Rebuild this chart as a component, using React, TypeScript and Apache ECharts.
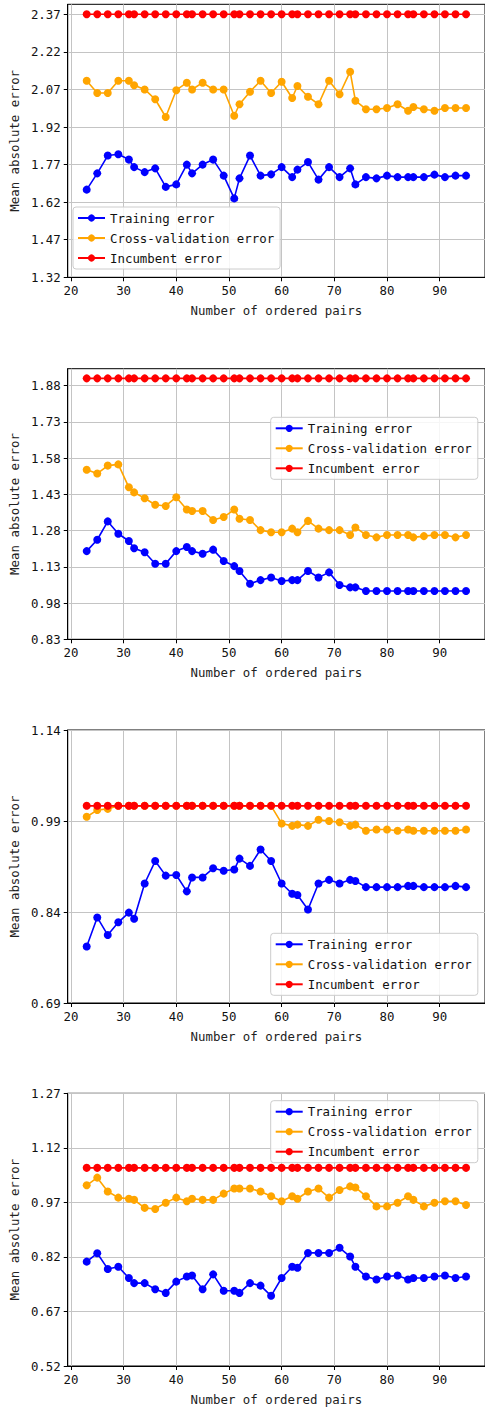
import React, { useEffect, useRef } from "react";
import * as echarts from "echarts";

const pairs = [23, 25, 27, 29, 31, 32, 34, 36, 38, 40, 42, 43, 45, 47, 49, 51, 52, 54, 56, 58, 60, 62, 63, 65, 67, 69, 71, 73, 74, 76, 78, 80, 82, 84, 85, 87, 89, 91, 93, 95];

const p1Training = [1.670, 1.735, 1.806, 1.811, 1.790, 1.760, 1.740, 1.755, 1.681, 1.691, 1.770, 1.735, 1.770, 1.790, 1.726, 1.635, 1.715, 1.806, 1.726, 1.731, 1.760, 1.720, 1.750, 1.780, 1.710, 1.760, 1.720, 1.755, 1.691, 1.720, 1.715, 1.726, 1.720, 1.720, 1.720, 1.720, 1.730, 1.720, 1.726, 1.726];
const p1CV = [2.105, 2.056, 2.056, 2.105, 2.105, 2.087, 2.070, 2.031, 1.960, 2.067, 2.097, 2.070, 2.097, 2.070, 2.070, 1.965, 2.011, 2.061, 2.105, 2.056, 2.101, 2.036, 2.084, 2.041, 2.011, 2.105, 2.051, 2.141, 2.025, 1.991, 1.991, 1.996, 2.011, 1.985, 2.000, 1.991, 1.985, 1.996, 1.996, 1.996];
const p1Incumbent = [2.37, 2.37, 2.37, 2.37, 2.37, 2.37, 2.37, 2.37, 2.37, 2.37, 2.37, 2.37, 2.37, 2.37, 2.37, 2.37, 2.37, 2.37, 2.37, 2.37, 2.37, 2.37, 2.37, 2.37, 2.37, 2.37, 2.37, 2.37, 2.37, 2.37, 2.37, 2.37, 2.37, 2.37, 2.37, 2.37, 2.37, 2.37, 2.37, 2.37];

const p2Training = [1.195, 1.242, 1.318, 1.267, 1.237, 1.207, 1.190, 1.143, 1.143, 1.195, 1.212, 1.195, 1.184, 1.201, 1.154, 1.133, 1.113, 1.060, 1.075, 1.086, 1.071, 1.075, 1.075, 1.113, 1.086, 1.107, 1.055, 1.045, 1.045, 1.030, 1.030, 1.030, 1.030, 1.030, 1.030, 1.030, 1.030, 1.030, 1.030, 1.030];
const p2CV = [1.532, 1.516, 1.549, 1.554, 1.459, 1.438, 1.414, 1.387, 1.382, 1.418, 1.367, 1.361, 1.361, 1.324, 1.336, 1.367, 1.329, 1.324, 1.282, 1.273, 1.273, 1.288, 1.273, 1.320, 1.288, 1.282, 1.282, 1.262, 1.293, 1.262, 1.252, 1.262, 1.262, 1.262, 1.252, 1.257, 1.262, 1.262, 1.252, 1.262];
const p2Incumbent = [1.91, 1.91, 1.91, 1.91, 1.91, 1.91, 1.91, 1.91, 1.91, 1.91, 1.91, 1.91, 1.91, 1.91, 1.91, 1.91, 1.91, 1.91, 1.91, 1.91, 1.91, 1.91, 1.91, 1.91, 1.91, 1.91, 1.91, 1.91, 1.91, 1.91, 1.91, 1.91, 1.91, 1.91, 1.91, 1.91, 1.91, 1.91, 1.91, 1.91];

const p3Training = [0.783, 0.831, 0.802, 0.823, 0.839, 0.829, 0.887, 0.924, 0.900, 0.901, 0.874, 0.897, 0.897, 0.912, 0.908, 0.910, 0.928, 0.916, 0.943, 0.924, 0.887, 0.870, 0.868, 0.844, 0.887, 0.893, 0.887, 0.893, 0.891, 0.881, 0.881, 0.881, 0.881, 0.883, 0.883, 0.881, 0.881, 0.881, 0.883, 0.881];
const p3CV = [0.997, 1.008, 1.010, 1.015, 1.015, 1.015, 1.015, 1.015, 1.015, 1.015, 1.015, 1.015, 1.015, 1.015, 1.015, 1.015, 1.015, 1.015, 1.015, 1.015, 0.986, 0.982, 0.984, 0.982, 0.992, 0.990, 0.988, 0.982, 0.984, 0.974, 0.976, 0.976, 0.974, 0.976, 0.974, 0.974, 0.974, 0.974, 0.974, 0.976];
const p3Incumbent = [1.015, 1.015, 1.015, 1.015, 1.015, 1.015, 1.015, 1.015, 1.015, 1.015, 1.015, 1.015, 1.015, 1.015, 1.015, 1.015, 1.015, 1.015, 1.015, 1.015, 1.015, 1.015, 1.015, 1.015, 1.015, 1.015, 1.015, 1.015, 1.015, 1.015, 1.015, 1.015, 1.015, 1.015, 1.015, 1.015, 1.015, 1.015, 1.015, 1.015];

const p4Training = [0.807, 0.830, 0.787, 0.793, 0.762, 0.748, 0.748, 0.731, 0.721, 0.752, 0.766, 0.769, 0.731, 0.772, 0.727, 0.727, 0.721, 0.748, 0.741, 0.713, 0.762, 0.793, 0.790, 0.831, 0.831, 0.831, 0.845, 0.821, 0.793, 0.766, 0.758, 0.766, 0.769, 0.758, 0.762, 0.762, 0.766, 0.769, 0.762, 0.766];
const p4CV = [1.017, 1.038, 1.000, 0.983, 0.980, 0.977, 0.955, 0.952, 0.969, 0.983, 0.973, 0.980, 0.977, 0.977, 0.994, 1.008, 1.008, 1.008, 1.000, 0.987, 0.973, 0.987, 0.980, 1.000, 1.008, 0.983, 1.004, 1.014, 1.011, 0.987, 0.959, 0.959, 0.969, 0.987, 0.977, 0.959, 0.969, 0.973, 0.973, 0.963];
const p4Incumbent = [1.065, 1.065, 1.065, 1.065, 1.065, 1.065, 1.065, 1.065, 1.065, 1.065, 1.065, 1.065, 1.065, 1.065, 1.065, 1.065, 1.065, 1.065, 1.065, 1.065, 1.065, 1.065, 1.065, 1.065, 1.065, 1.065, 1.065, 1.065, 1.065, 1.065, 1.065, 1.065, 1.065, 1.065, 1.065, 1.065, 1.065, 1.065, 1.065, 1.065];

const xTicks = [20, 30, 40, 50, 60, 70, 80, 90];
const p1YTicks = [1.32, 1.47, 1.62, 1.77, 1.92, 2.07, 2.22, 2.37];
const p2YTicks = [0.83, 0.98, 1.13, 1.28, 1.43, 1.58, 1.73, 1.88];
const p3YTicks = [0.69, 0.84, 0.99, 1.14];
const p4YTicks = [0.52, 0.67, 0.82, 0.97, 1.12, 1.27];

const seriesNames = ["Training error", "Cross-validation error", "Incumbent error"];
const seriesColors = ["#0000ff", "#ffa500", "#ff0000"];

const panels = [
  { data: [p1Training, p1CV, p1Incumbent], ticks: p1YTicks, yMin: 1.32, yMax: 2.41, top: 4.3, height: 273, legendLeft: 73, legendTop: 207 },
  { data: [p2Training, p2CV, p2Incumbent], ticks: p2YTicks, yMin: 0.83, yMax: 1.95, top: 368.7, height: 270.6, legendLeft: 270.7, legendTop: 417.3 },
  { data: [p3Training, p3CV, p3Incumbent], ticks: p3YTicks, yMin: 0.69, yMax: 1.14, top: 730, height: 273, legendLeft: 270.7, legendTop: 933.3 },
  { data: [p4Training, p4CV, p4Incumbent], ticks: p4YTicks, yMin: 0.52, yMax: 1.27, top: 1093.3, height: 272.7, legendLeft: 270.7, legendTop: 1100.7 },
];

const FONT = "DejaVu Sans Mono";
const FS = 12.4;

export default function App() {
  const ref = useRef<HTMLDivElement>(null);
  useEffect(() => {
    if (!ref.current) return;
    const chart = echarts.init(ref.current, undefined, { renderer: "svg" });
    const grid: any[] = [];
    const xAxis: any[] = [];
    const yAxis: any[] = [];
    const legend: any[] = [];
    const series: any[] = [];
    panels.forEach((p, i) => {
      grid.push({
        left: 66.1,
        width: 420.6,
        top: p.top,
        height: p.height,
        show: true,
        borderColor: "#000",
        borderWidth: 1,
        backgroundColor: "transparent",
      });
      xAxis.push({
        type: "value",
        gridIndex: i,
        min: 19.4,
        max: 98.6,
        splitNumber: 8,
        name: "Number of ordered pairs",
        nameLocation: "middle",
        nameGap: 27,
        nameTextStyle: { fontFamily: FONT, fontSize: FS, color: "#222" },
        axisLine: { show: true, onZero: false, lineStyle: { color: "#000", width: 1 } },
        axisTick: { show: true, inside: false, length: 4, customValues: xTicks, lineStyle: { color: "#000" } },
        axisLabel: { show: true, customValues: xTicks, margin: 7, fontFamily: FONT, fontSize: FS, color: "#111" },
        splitLine: { show: true, lineStyle: { color: "#c4c4c4", width: 1 } },
      });
      yAxis.push({
        type: "value",
        gridIndex: i,
        min: p.yMin,
        max: p.yMax,
        interval: 0.15,
        name: "Mean absolute error",
        nameLocation: "middle",
        nameGap: 44,
        nameTextStyle: { fontFamily: FONT, fontSize: FS, color: "#222" },
        axisLine: { show: true, onZero: false, lineStyle: { color: "#000", width: 1 } },
        axisTick: { show: true, inside: false, length: 4, customValues: p.ticks, lineStyle: { color: "#000" } },
        axisLabel: {
          show: true,
          customValues: p.ticks,
          margin: 7,
          fontFamily: FONT,
          fontSize: FS,
          color: "#111",
          formatter: (v: number) => v.toFixed(2),
        },
        splitLine: { show: true, lineStyle: { color: "#c4c4c4", width: 1 } },
      });
      legend.push({
        left: p.legendLeft,
        top: p.legendTop,
        orient: "vertical",
        data: seriesNames,
        selectedMode: false,
        itemWidth: 27,
        itemHeight: 9,
        itemGap: 6,
        padding: [4, 6, 4, 4],
        backgroundColor: "rgba(255,255,255,0.85)",
        borderColor: "#cccccc",
        borderWidth: 1,
        borderRadius: 3,
        textStyle: { fontFamily: FONT, fontSize: FS, color: "#111", lineHeight: 14 },
      });
      p.data.forEach((arr, k) => {
        series.push({
          type: "line",
          name: seriesNames[k],
          xAxisIndex: i,
          yAxisIndex: i,
          data: pairs.map((x, j) => [x, arr[j]]),
          symbol: "circle",
          symbolSize: 8,
          showSymbol: true,
          color: seriesColors[k],
          itemStyle: { color: seriesColors[k] },
          lineStyle: { color: seriesColors[k], width: 1.6 },
          emphasis: { disabled: true },
          z: 2 + k,
        });
      });
    });
    chart.setOption({
      animation: false,
      backgroundColor: "#ffffff",
      grid,
      xAxis,
      yAxis,
      legend,
      series,
    });
    return () => chart.dispose();
  }, []);
  return (
    <div
      ref={ref}
      style={{ position: "absolute", left: 0, top: 0, width: 485, height: 1410, overflow: "hidden" }}
    />
  );
}
